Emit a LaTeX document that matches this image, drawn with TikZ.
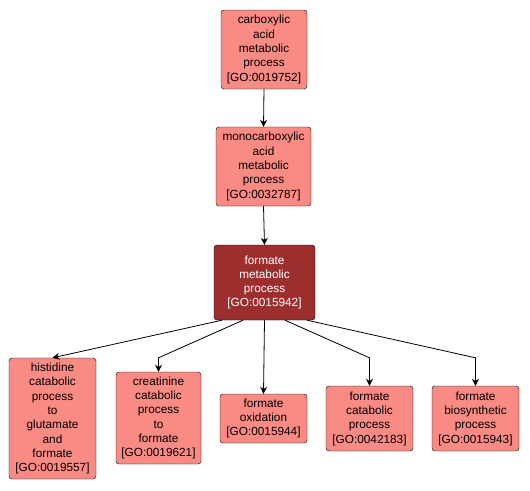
\documentclass[tikz,border=0pt]{standalone}
\usepackage{fontspec}
\setmainfont{Liberation Sans}
\usetikzlibrary{arrows.meta}
\definecolor{salmon}{RGB}{250,138,132}
\definecolor{darkred}{RGB}{156,46,46}
\tikzset{
  term/.style={draw=black, fill=salmon, rounded corners=3pt, align=center, inner sep=0pt,
    font=\fontsize{11.8}{14.3}\selectfont, text=black},
  focus/.style={term, fill=darkred, text=white},
  arr/.style={-{Stealth[length=7pt,width=7pt]}, line width=0.8pt, black}
}
\begin{document}
\begin{tikzpicture}[x=1pt,y=-1pt]
\useasboundingbox (0,0) rectangle (530,490);
\node[term, minimum width=86pt, minimum height=79pt] (ca) at (264,49.5) {carboxylic\\acid\\metabolic\\process\\{[GO:0019752]}};
\node[term, minimum width=95pt, minimum height=79pt] (mc) at (263.5,166.5) {monocarboxylic\\acid\\metabolic\\process\\{[GO:0032787]}};
\node[focus, minimum width=101pt, minimum height=75pt] (fm) at (264.5,282.5) {formate\\metabolic\\process\\{[GO:0015942]}};
\node[term, minimum width=87pt, minimum height=121pt] (hi) at (52.5,418.5) {histidine\\catabolic\\process\\to\\glutamate\\and\\formate\\{[GO:0019557]}};
\node[term, minimum width=85pt, minimum height=92pt] (cr) at (158.5,418) {creatinine\\catabolic\\process\\to\\formate\\{[GO:0019621]}};
\node[term, minimum width=87pt, minimum height=49pt] (ox) at (263.5,418.5) {formate\\oxidation\\{[GO:0015944]}};
\node[term, minimum width=87pt, minimum height=65pt] (cat) at (369.5,418.5) {formate\\catabolic\\process\\{[GO:0042183]}};
\node[term, minimum width=87pt, minimum height=65pt] (bio) at (475.5,418.5) {formate\\biosynthetic\\process\\{[GO:0015943]}};
\draw[arr] (ca.south) -- (mc.north);
\draw[arr] (mc.south) -- (fm.north);
\draw[arr] (fm.south) -- (ox.north);
\draw[arr] ([xshift=-42.5pt]fm.south) -- (hi.north);
\draw[arr] ([xshift=-21.5pt]fm.south) -- ([yshift=14pt]cr.north) -- (cr.north);
\draw[arr] ([xshift=20.5pt]fm.south) -- ([yshift=28pt]cat.north) -- (cat.north);
\draw[arr] ([xshift=42.5pt]fm.south) -- ([yshift=28pt]bio.north) -- (bio.north);
\end{tikzpicture}
\end{document}
